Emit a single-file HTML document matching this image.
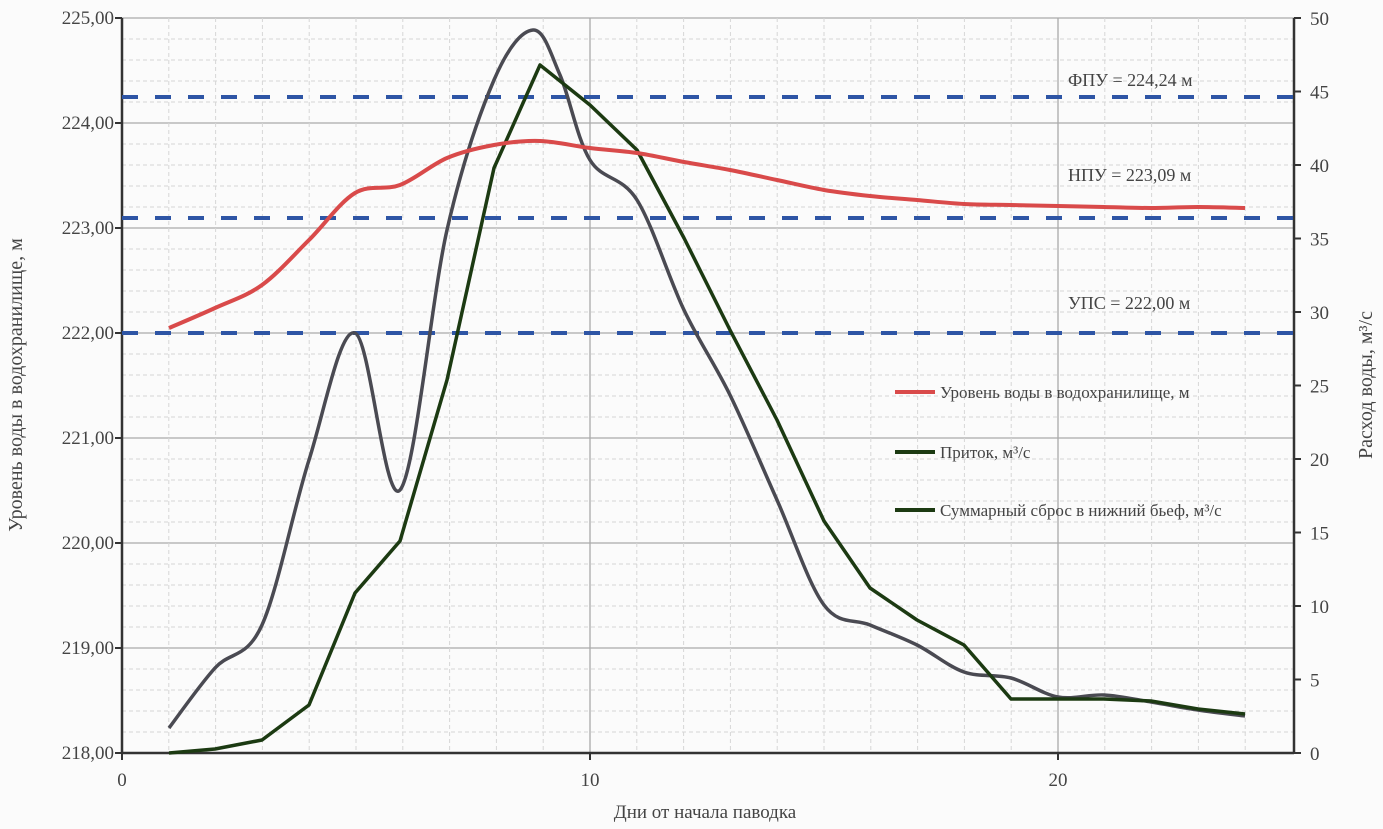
<!DOCTYPE html>
<html><head><meta charset="utf-8"><style>
body{margin:0;background:#fbfbfb;}
svg text{font-family:"Liberation Serif",serif;fill:#444;}
</style></head><body>
<svg id="s" width="1383" height="824" xmlns="http://www.w3.org/2000/svg">
<rect width="1383" height="824" fill="#fbfbfb"/>
<g id="grid"></g>
<g id="lines"></g>
<g font-size="18">
<text x="1068" y="86">ФПУ = 224,24 м</text>
<text x="1068" y="181">НПУ = 223,09 м</text>
<text x="1068" y="309">УПС = 222,00 м</text>
</g>
<g font-size="17">
<line x1="895" y1="392" x2="935" y2="392" stroke="#d94a4a" stroke-width="4"/>
<text x="940" y="398">Уровень воды в водохранилище, м</text>
<line x1="895" y1="452" x2="935" y2="452" stroke="#1c3a12" stroke-width="4"/>
<text x="940" y="458">Приток, м³/с</text>
<line x1="895" y1="510" x2="935" y2="510" stroke="#1c3a12" stroke-width="4"/>
<text x="940" y="516">Суммарный сброс в нижний бьеф, м³/с</text>
</g>
<text x="705" y="818" font-size="19" text-anchor="middle">Дни от начала паводка</text>
<text transform="translate(22,385) rotate(-90)" font-size="20" text-anchor="middle">Уровень воды в водохранилище, м</text>
<text transform="translate(1372,385) rotate(-90)" font-size="20" text-anchor="middle">Расход воды, м³/с</text>
</svg>
<script>
var ns="http://www.w3.org/2000/svg",g=document.getElementById("grid"),L=document.getElementById("lines");
function el(p,t,a,txt){var e=document.createElementNS(ns,t);for(var k in a)e.setAttribute(k,a[k]);if(txt!=null)e.textContent=txt;p.appendChild(e);return e;}
var X0=122,X1=1294,Y0=18,Y1=753;
for(var i=0;i<=35;i++){var y=Y1-i*21;if(i%5==0)el(g,"line",{x1:X0,x2:X1,y1:y,y2:y,stroke:"#aaa","stroke-width":1.3});else el(g,"line",{x1:X0,x2:X1,y1:y,y2:y,stroke:"#d6d6d6","stroke-dasharray":"4 3"});}
for(var d=1;d<=25;d++){var x=X0+d*46.8;if(d%10==0)el(g,"line",{x1:x,x2:x,y1:Y0,y2:Y1,stroke:"#aaa","stroke-width":1.3});else if(d<25)el(g,"line",{x1:x,x2:x,y1:Y0,y2:Y1,stroke:"#d6d6d6","stroke-dasharray":"4 3"});}
el(g,"line",{x1:X0,x2:X0,y1:Y0,y2:Y1,stroke:"#333","stroke-width":2.5});
el(g,"line",{x1:X1,x2:X1,y1:Y0,y2:Y1,stroke:"#333","stroke-width":2.5});
el(g,"line",{x1:X0,x2:X1,y1:Y1,y2:Y1,stroke:"#333","stroke-width":2.5});
var lv=["218,00","219,00","220,00","221,00","222,00","223,00","224,00","225,00"];
for(var i=0;i<8;i++){var y=Y1-i*105;el(g,"line",{x1:X0-7,x2:X0,y1:y,y2:y,stroke:"#333","stroke-width":2});el(g,"text",{x:X0-8,y:y+6,"font-size":19,"text-anchor":"end"},lv[i]);}
for(var v=0;v<=50;v+=5){var y=Y1-v*14.7;el(g,"line",{x1:X1,x2:X1+7,y1:y,y2:y,stroke:"#333","stroke-width":2});el(g,"text",{x:X1+16,y:y+7,"font-size":19},""+v);}
[0,10,20].forEach(function(d){var x=X0+d*46.8;el(g,"line",{x1:x,x2:x,y1:Y1,y2:Y1+7,stroke:"#333","stroke-width":2});el(g,"text",{x:x,y:Y1+33,"font-size":19,"text-anchor":"middle"},""+d);});
[97,218,333].forEach(function(y){el(L,"line",{x1:X0,x2:X1,y1:y,y2:y,stroke:"#2e55a5","stroke-width":4,"stroke-dasharray":"16 17"});});
function path(pts){var d="M"+pts[0][0]+","+pts[0][1];for(var i=0;i<pts.length-1;i++){var p0=pts[i-1]||pts[i],p1=pts[i],p2=pts[i+1],p3=pts[i+2]||p2;var c1x=p1[0]+(p2[0]-p0[0])/6,c1y=p1[1]+(p2[1]-p0[1])/6,c2x=p2[0]-(p3[0]-p1[0])/6,c2y=p2[1]-(p3[1]-p1[1])/6;d+=" C"+c1x+","+c1y+" "+c2x+","+c2y+" "+p2[0]+","+p2[1];}return d;}
var gray=[[169,728],[215,668],[262,625],[309,460],[355,333],[400,490],[447,230],[494,80],[533,30],[560,75],[590,160],[637,200],[684,310],[730,395],[777,500],[824,605],[870,625],[917,645],[964,672],[1011,678],[1058,697],[1104,695],[1151,702],[1198,710],[1245,716]];
var green=[[169,753],[215,749],[262,740],[309,705],[355,593],[400,541],[447,380],[494,168],[540,65],[590,105],[637,150],[684,238],[730,330],[777,420],[824,521],[870,588],[917,620],[964,645],[1011,699],[1058,699],[1104,699],[1151,701],[1198,709],[1245,714]];
var red=[[169,328],[215,308],[262,285],[309,240],[355,193],[400,185],[447,158],[494,145],[540,141],[590,148],[637,153],[684,162],[730,170],[777,180],[824,190],[870,196],[917,200],[964,204],[1011,205],[1058,206],[1104,207],[1151,208],[1198,207],[1245,208]];
el(L,"path",{d:path(gray),fill:"none",stroke:"#4a4a52","stroke-width":3.5});
var gp="M"+green.map(function(p){return p.join(",")}).join(" L");
el(L,"path",{d:gp,fill:"none",stroke:"#1c3a12","stroke-width":3.5,"stroke-linejoin":"round"});
el(L,"path",{d:path(red),fill:"none",stroke:"#d94a4a","stroke-width":4});
</script>
</body></html>
